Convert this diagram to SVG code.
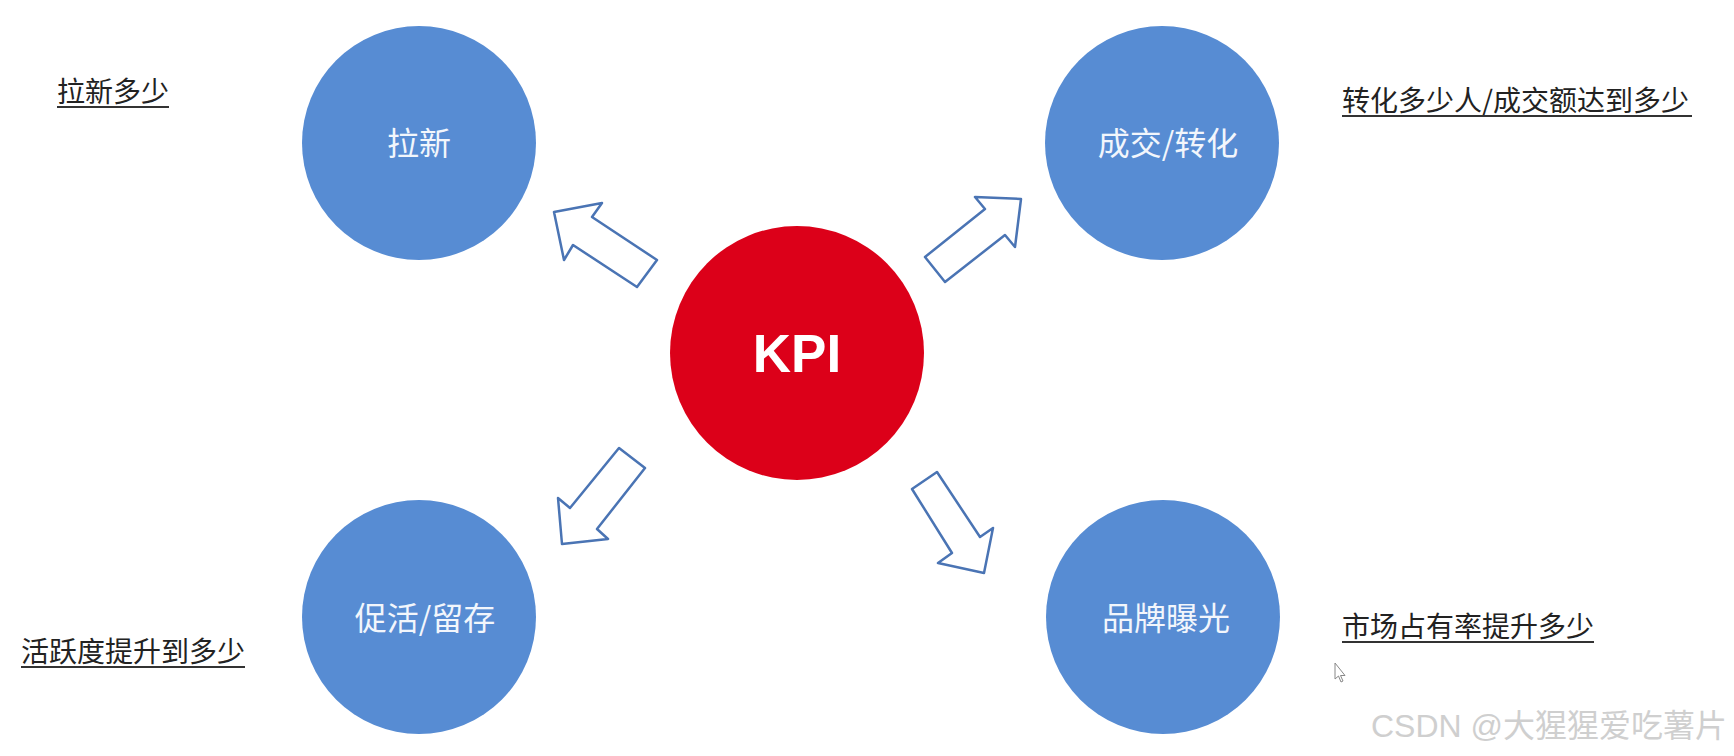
<svg xmlns="http://www.w3.org/2000/svg" width="1734" height="756" viewBox="0 0 1734 756">
<style>
.bg{fill:#ffffff}
.blue{fill:#578CD3}
.red{fill:#DC0019}
.ctext{font-family:"Noto Sans CJK SC","Noto Sans",sans-serif;font-size:32px;fill:#F2F6FC;text-anchor:middle}
.kpi{font-family:"Liberation Sans","Noto Sans",sans-serif;font-weight:bold;font-size:53px;fill:#ffffff;text-anchor:middle}
.label{font-family:"Noto Sans CJK SC","Noto Sans",sans-serif;font-size:28px;fill:#222222}
.uline{stroke:#333333;stroke-width:2}
.arrow{fill:#ffffff;stroke:#4A74B4;stroke-width:2.5;stroke-linejoin:round}
.wm{font-family:"Liberation Sans","Noto Sans CJK SC",sans-serif;font-size:32px;fill:#CFCFCF}
</style>
<rect class="bg" x="0" y="0" width="1734" height="756"/>

<g id="connectors">
<polygon class="arrow" points="554,212 602,203 592,217 657,260 637,287 573,245 564,260"/>
<polygon class="arrow" points="1021,199 1015,247 1005,235 945,282 925,257 985,209 975,197"/>
<polygon class="arrow" points="619,448 645,468 597,529 608,539 562,544 558,498 570,508"/>
<polygon class="arrow" points="937,472 912,489 952,553 938,563 984,573 993,528 980,537"/>
</g>

<g id="node-kpi">
<circle class="red" cx="797" cy="353" r="127"/>
<text class="kpi" x="797" y="372">KPI</text>
</g>

<g id="node-laxin">
<circle class="blue" cx="419" cy="143" r="117"/>
<text class="ctext" x="419" y="155">拉新</text>
</g>

<g id="node-chengjiao">
<circle class="blue" cx="1162" cy="143" r="117"/>
<text class="ctext" x="1168" y="155">成交/转化</text>
</g>

<g id="node-cuhuo">
<circle class="blue" cx="419" cy="617" r="117"/>
<text class="ctext" x="425" y="630">促活/留存</text>
</g>

<g id="node-pinpai">
<circle class="blue" cx="1163" cy="617" r="117"/>
<text class="ctext" x="1166" y="630">品牌曝光</text>
</g>

<g id="label-laxin">
<text class="label" x="57" y="102">拉新多少</text>
<line class="uline" x1="57" y1="107" x2="169" y2="107"/>
</g>

<g id="label-chengjiao">
<text class="label" x="1342" y="111">转化多少人/成交额达到多少</text>
<line class="uline" x1="1342" y1="116" x2="1692" y2="116"/>
</g>

<g id="label-cuhuo">
<text class="label" x="21" y="662">活跃度提升到多少</text>
<line class="uline" x1="21" y1="667" x2="245" y2="667"/>
</g>

<g id="label-pinpai">
<text class="label" x="1342" y="637">市场占有率提升多少</text>
<line class="uline" x1="1342" y1="642" x2="1594" y2="642"/>
</g>

<g id="cursor">
<polygon points="1335,663 1335,679 1338.5,676 1341,682 1343,681 1340.5,675.5 1345,675.5" fill="#ffffff" stroke="#888888" stroke-width="1"/>
</g>

<text class="wm" x="1371" y="737">CSDN @大猩猩爱吃薯片</text>
</svg>
